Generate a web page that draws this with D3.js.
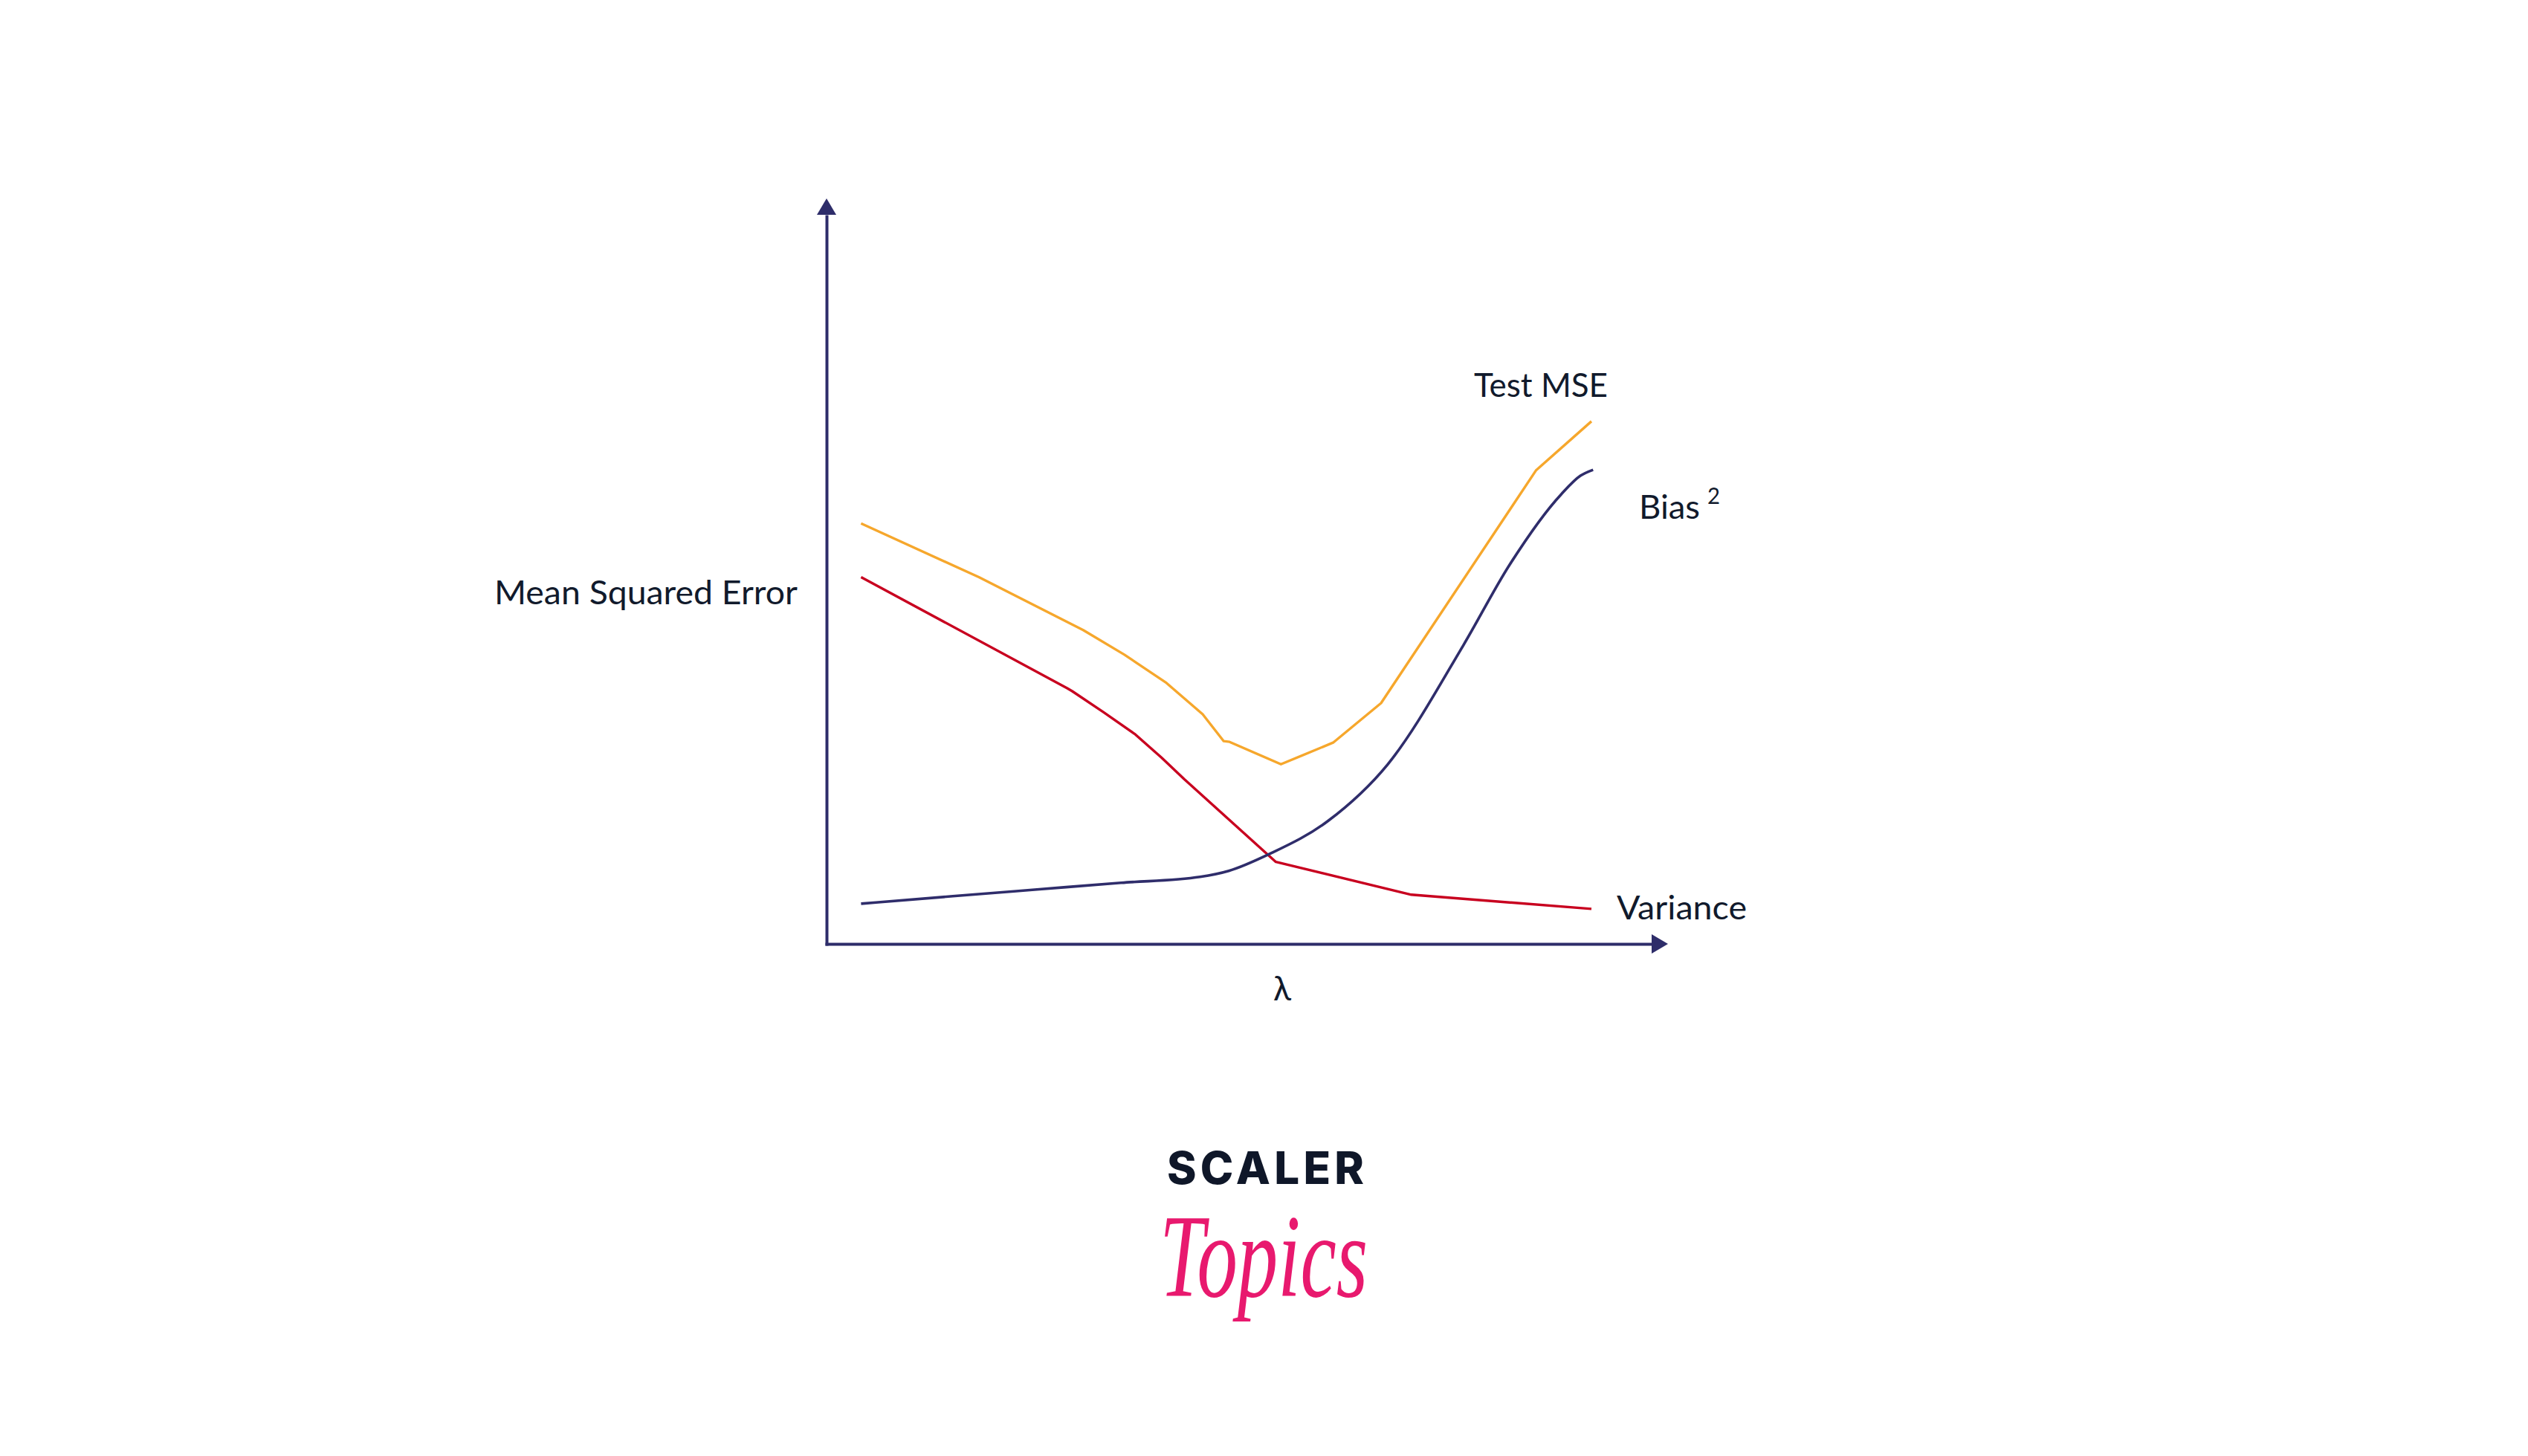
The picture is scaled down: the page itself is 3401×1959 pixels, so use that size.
<!DOCTYPE html>
<html>
<head>
<meta charset="utf-8">
<script src="https://cdn.jsdelivr.net/npm/d3@7"></script>
<style>
  html, body { margin: 0; padding: 0; background: #ffffff; }
  svg { display: block; }
</style>
</head>
<body>
<script>
// ---- Data (λ on a 0–100 scale, error on a 0–100 scale) ----
const testMSE_lambda = [4.1, 18.1, 30.5, 35.4, 40.4, 44.7, 47.2, 47.9, 54.0, 60.2, 65.9, 84.3, 90.9];
const testMSE_error  = [56.4, 49.2, 42.1, 38.8, 35.0, 30.8, 27.2, 27.1, 24.1, 27.0, 32.3, 63.5, 70.1];

const variance_lambda = [4.1, 28.6, 29.2, 32.9, 36.7, 39.8, 42.5, 53.4, 69.5, 90.9];
const variance_error  = [49.2, 34.3, 33.9, 31.1, 28.1, 25.0, 22.1, 11.0, 6.6, 4.7];

const bias2_lambda = [4.1, 15.0, 25.0, 35.0, 44.4, 47.8, 52.7, 59.6, 66.7, 75.7, 81.2, 87.3, 89.6, 91.1];
const bias2_error  = [5.4, 6.4, 7.3, 8.2, 9.0, 9.8, 12.1, 16.5, 24.1, 40.1, 50.9, 60.3, 62.8, 63.6];

const xAxisLabel = "λ";
const yAxisLabel = "Mean Squared Error";
const seriesLabels = ["Test MSE", "Bias", "Variance"];

// ---- Layout ----
const W = 3401, H = 1959;
const svg = d3.select("body").append("svg").attr("width", W).attr("height", H);
svg.append("rect").attr("width", W).attr("height", H).attr("fill", "#ffffff");

const x = d3.scaleLinear().domain([0, 100]).range([1112, 2244]);
const y = d3.scaleLinear().domain([0, 100]).range([1270, 267]);

const axisColor = "#2e2d6a";
const textColor = "#111a2c";
const font = "Lato, 'Open Sans', 'Noto Sans', sans-serif";

// ---- Axes (no ticks) ----
const arrowLen = 22, arrowHalf = 13;
const xAxisG = svg.append("g").attr("transform", `translate(0,${y(0)})`)
  .call(d3.axisBottom(d3.scaleLinear().domain([0,1]).range([x(0) - 2, x(100) - arrowLen])).ticks(0).tickSizeOuter(0));
xAxisG.select(".domain").attr("stroke", axisColor).attr("stroke-width", 4);
const yAxisG = svg.append("g").attr("transform", `translate(${x(0)},0)`)
  .call(d3.axisLeft(d3.scaleLinear().domain([0,1]).range([y(0) + 2, y(100) + arrowLen])).ticks(0).tickSizeOuter(0));
yAxisG.select(".domain").attr("stroke", axisColor).attr("stroke-width", 4);

// arrowheads
svg.append("path")
  .attr("d", `M${x(100)},${y(0)} L${x(100) - arrowLen},${y(0) - arrowHalf} L${x(100) - arrowLen},${y(0) + arrowHalf} Z`)
  .attr("fill", axisColor);
svg.append("path")
  .attr("d", `M${x(0)},${y(100)} L${x(0) - arrowHalf},${y(100) + arrowLen} L${x(0) + arrowHalf},${y(100) + arrowLen} Z`)
  .attr("fill", axisColor);

// ---- Curves ----
function pts(xs, ys) { return xs.map((v, i) => [v, ys[i]]); }

const lineLinear = d3.line().x(d => x(d[0])).y(d => y(d[1])).curve(d3.curveLinear);
const lineSmooth = d3.line().x(d => x(d[0])).y(d => y(d[1])).curve(d3.curveMonotoneX);

svg.append("path").datum(pts(testMSE_lambda, testMSE_error))
  .attr("d", lineLinear).attr("fill", "none").attr("stroke", "#f6a72c")
  .attr("stroke-width", 3.4).attr("stroke-linejoin", "round");

svg.append("path").datum(pts(variance_lambda, variance_error))
  .attr("d", lineLinear).attr("fill", "none").attr("stroke", "#c8001f")
  .attr("stroke-width", 3.4).attr("stroke-linejoin", "round");

svg.append("path").datum(pts(bias2_lambda, bias2_error))
  .attr("d", lineSmooth).attr("fill", "none").attr("stroke", "#2f2d6b")
  .attr("stroke-width", 3.6).attr("stroke-linejoin", "round");

// ---- Labels ----
function label(txt, px, py, len, size) {
  return svg.append("text").attr("x", px).attr("y", py)
    .attr("font-family", font).attr("font-size", size || 44)
    .attr("fill", textColor)
    .attr("textLength", len).attr("lengthAdjust", "spacingAndGlyphs")
    .text(txt);
}
label(seriesLabels[0], 1983, 534, 180);
label(seriesLabels[1], 2205, 698, 82);
label("2", 2297, 678, 17, 30);
label(seriesLabels[2], 2175, 1237, 175);
label(yAxisLabel, 665, 813, 408);
label(xAxisLabel, 1713, 1346, 24, 46);

// ---- Logo ----
svg.append("text").attr("x", 1570).attr("y", 1593)
  .attr("font-family", "Inter, 'Noto Sans', sans-serif").attr("font-weight", 800)
  .attr("font-size", 60).attr("fill", "#0f1729")
  .attr("textLength", 265).attr("lengthAdjust", "spacing")
  .text("SCALER");
svg.append("text").attr("x", 1560).attr("y", 1744)
  .attr("font-family", "'Liberation Serif', 'DejaVu Serif', serif").attr("font-style", "italic")
  .attr("font-size", 158).attr("fill", "#e8196e")
  .attr("textLength", 280).attr("lengthAdjust", "spacingAndGlyphs")
  .text("Topics");
</script>
</body>
</html>
